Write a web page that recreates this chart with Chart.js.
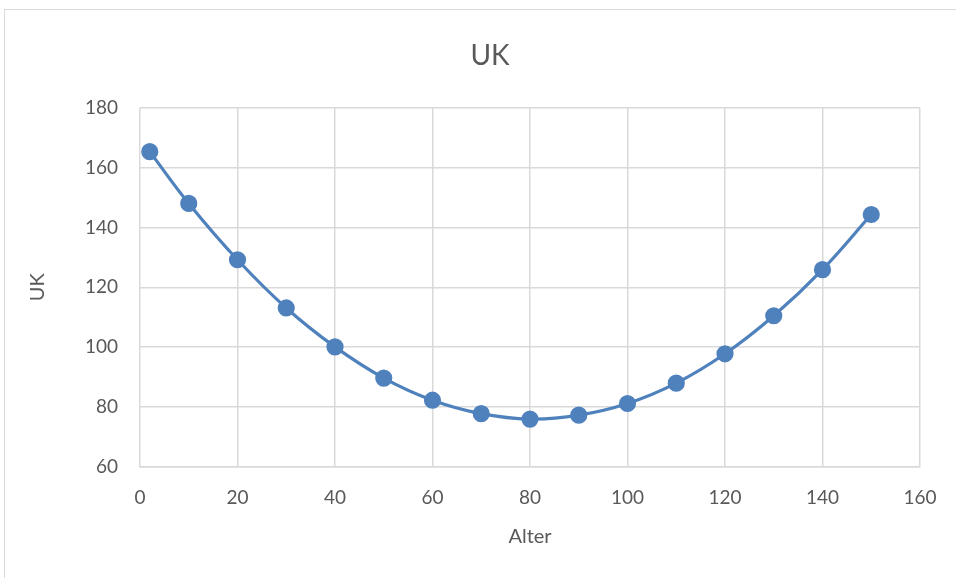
<!DOCTYPE html>
<html>
<head>
<meta charset="utf-8">
<script src="https://cdn.jsdelivr.net/npm/chart.js@4.4.1/dist/chart.umd.min.js"></script>
<style>
  html, body { margin: 0; padding: 0; background: #fff; }
  #wrap { position: relative; width: 956px; height: 578px; overflow: hidden; }
  #frame { position: absolute; left: 4px; top: 9px; width: 1000px; height: 700px; border: 1px solid #d9d9d9; }
  canvas { position: absolute; left: 0; top: 0; }
</style>
</head>
<body>
<div id="wrap">
  <div id="frame"></div>
  <canvas id="ukChart" width="956" height="578"></canvas>
</div>
<script>
// Werte
const alter = [2, 10, 20, 30, 40, 50, 60, 70, 80, 90, 100, 110, 120, 130, 140, 150];
const ukWerte = [165.3, 148, 129.2, 113.1, 100.1, 89.7, 82.3, 77.8, 76, 77.3, 81.2, 88, 97.8, 110.5, 125.9, 144.3];

const textColor = "#595959";
const gridColor = "#d9d9d9";
const fontFamily = "Lato, 'Open Sans', sans-serif";

const punkte = alter.map(function (x, i) {
  return { x: x, y: ukWerte[i] };
});

// Titel etwas nach rechts schieben (wie im Original, mittig im Rahmen)
const titelVerschieben = {
  id: "titelVerschieben",
  afterLayout: function (chart) {
    if (chart.titleBlock) {
      chart.titleBlock.left += 30;
      chart.titleBlock.right += 30;
    }
  }
};

new Chart(document.getElementById("ukChart"), {
  type: "scatter",
  data: {
    datasets: [{
      label: "UK",
      data: punkte,
      showLine: true,
      borderColor: "#4f81bd",
      backgroundColor: "#4f81bd",
      borderWidth: 3.2,
      pointRadius: 7,
      pointHoverRadius: 7,
      tension: 0.4
    }]
  },
  plugins: [titelVerschieben],
  options: {
    responsive: false,
    animation: false,
    layout: { padding: { left: 0, right: 36, top: 0, bottom: 0 } },
    plugins: {
      legend: { display: false },
      tooltip: { enabled: false },
      title: {
        display: true,
        text: "UK",
        color: textColor,
        font: { family: fontFamily, size: 28, weight: "normal" },
        padding: { top: 39, bottom: 35 }
      }
    },
    scales: {
      x: {
        type: "linear",
        min: 0,
        max: 160,
        ticks: { stepSize: 20, color: textColor, font: { family: fontFamily, size: 19 }, padding: 19 },
        grid: { color: gridColor, lineWidth: 1.5, drawTicks: false },
        border: { color: gridColor, width: 1.5 },
        title: { display: true, text: "Alter", color: textColor, font: { family: fontFamily, size: 20 }, padding: { top: 12, bottom: 29 } },
        afterFit: function (s) { s.height = 111; }
      },
      y: {
        min: 60,
        max: 180,
        ticks: { stepSize: 20, color: textColor, font: { family: fontFamily, size: 19 }, padding: 22 },
        grid: { color: gridColor, lineWidth: 1.5, drawTicks: false },
        border: { display: false },
        title: { display: true, text: "UK", color: textColor, font: { family: fontFamily, size: 20 }, padding: { top: 26, bottom: 14 } },
        afterFit: function (s) { s.width = 140; }
      }
    }
  }
});
</script>
</body>
</html>
